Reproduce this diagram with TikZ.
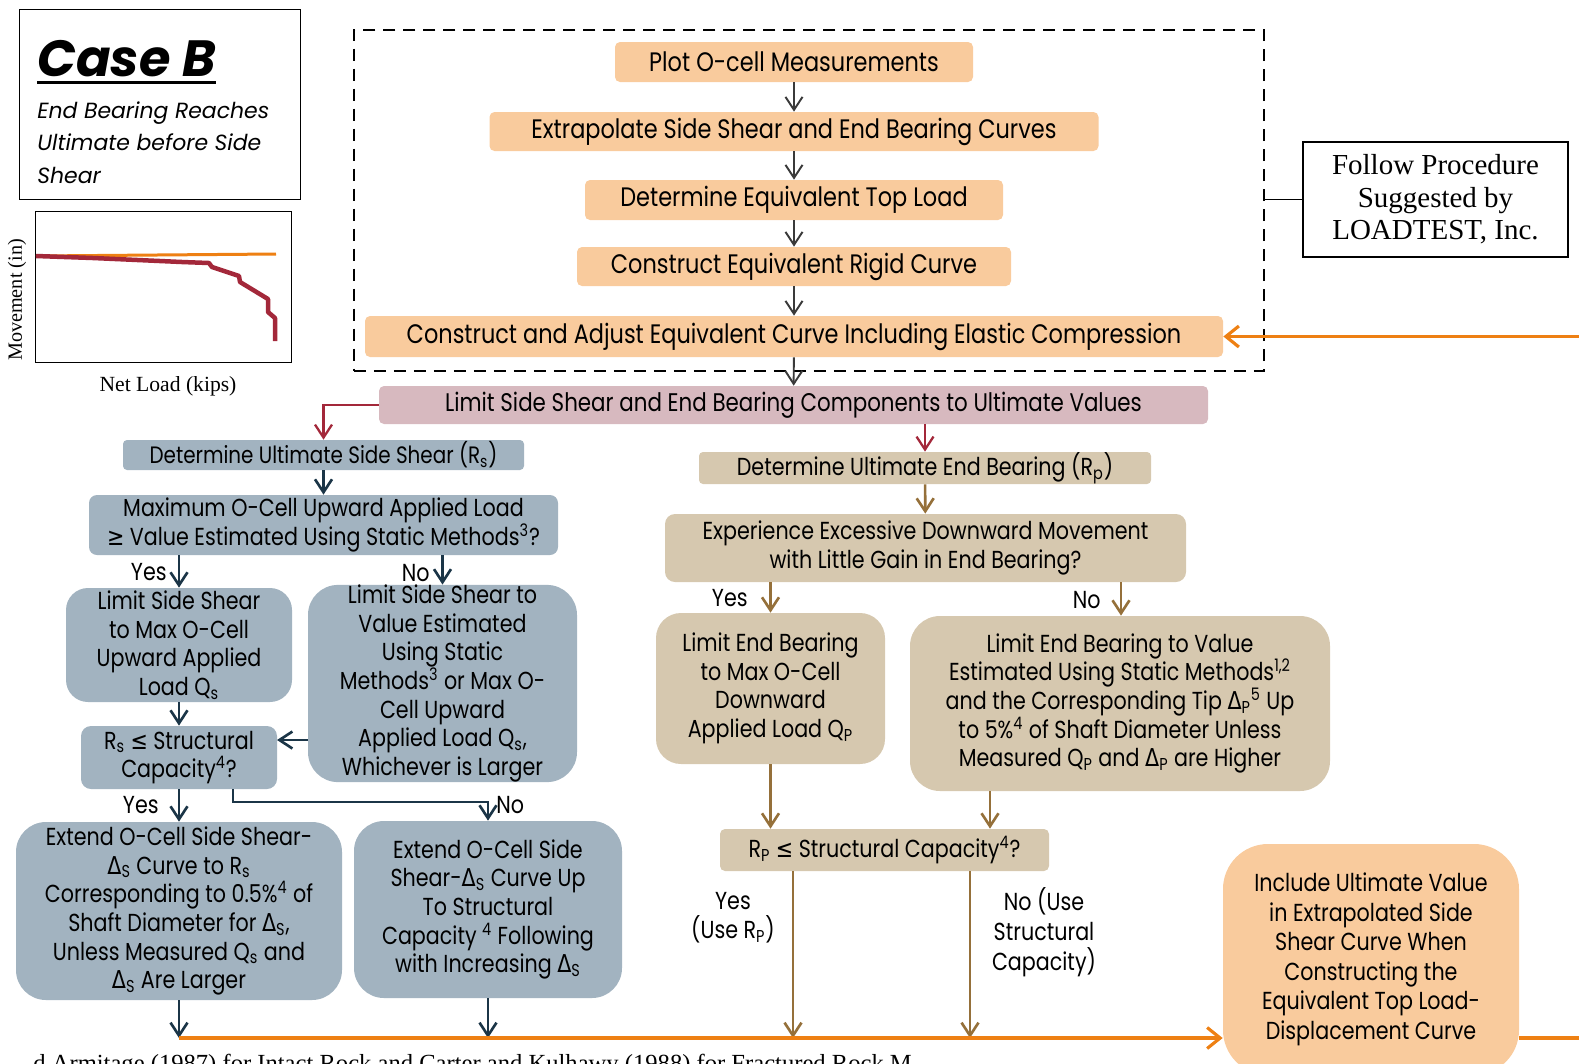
\documentclass[tikz,border=0pt]{standalone}
\usepackage{fontspec}
\setmainfont{Poppins}[FakeStretch=0.84]
\newfontfamily\casefont{Poppins}
\newfontfamily\symfont{DejaVu Sans}[FakeStretch=0.84]
\newfontfamily\notefont{Liberation Serif}
\usetikzlibrary{arrows.meta,calc}

\definecolor{boxorange}{HTML}{F9CB9D}
\definecolor{boxpink}{HTML}{D7B9BF}
\definecolor{boxblue}{HTML}{A2B3C0}
\definecolor{boxtan}{HTML}{D6C8AF}
\definecolor{arrgray}{HTML}{3A3A3A}
\definecolor{arrred}{HTML}{A3283A}
\definecolor{arrnavy}{HTML}{1B3547}
\definecolor{arrbrown}{HTML}{95703A}
\definecolor{busorange}{HTML}{EE8013}

\newcommand{\Dl}{{\symfont Δ}}
\newcommand{\leqs}{{\symfont ≤}}
\newcommand{\geqs}{{\symfont ≥}}

\begin{document}
\begin{tikzpicture}[x=0.02cm,y=-0.02cm,
  every node/.style={font=\fontsize{14}{16.3}\selectfont,align=center,inner sep=0pt},
  topfont/.style={font=\fontsize{15.2}{18}\selectfont},
  sz/.style 2 args={minimum width=#1*0.02cm,minimum height=#2*0.02cm},
  obox/.style={fill=boxorange,rounded corners=0.1cm},
  pbox/.style={fill=boxpink,rounded corners=0.1cm},
  bbox/.style={fill=boxblue,rounded corners=0.08cm},
  tbox/.style={fill=boxtan,rounded corners=0.08cm},
  barb/.style={-{Straight Barb[length=0.26cm,width=0.34cm]}},
  garrow/.style={barb,draw=arrgray,line width=1.1pt},
  rarrow/.style={barb,draw=arrred,line width=1.3pt},
  narrow/.style={barb,draw=arrnavy,line width=1.5pt},
  brarrow/.style={barb,draw=arrbrown,line width=1.5pt},
  busline/.style={draw=busorange,line width=1.8pt},
  serif/.style 2 args={font=\notefont\fontsize{#1}{#2}\selectfont}]
\useasboundingbox (0,0) rectangle (1579,1063);

% case heading and sketch of the curves
\node[draw,line width=0.7pt,sz={281}{190},anchor=north west] (casebox) at (19,9) {};
\node[anchor=base west,font=\casefont\bfseries\itshape\fontsize{29}{29}\selectfont] (casetitle) at (37,76) {Case B};
\draw[line width=0.06cm] ($(casetitle.base west)+(0,6)$) -- ($(casetitle.base east)+(0,6)$);
\node[anchor=north west,align=left,font=\casefont\itshape\fontsize{12.5}{18.5}\selectfont] (casesub) at (37,101) {End Bearing Reaches\\Ultimate before Side\\Shear};

\node[draw,line width=0.7pt,sz={256}{151},anchor=north west] (chart) at (35,211) {};
\draw[busorange,line width=0.06cm] (36,256) -- (276,254);
\draw[arrred,line width=0.09cm,line join=round] (36,256) -- (93,258) -- (182,262) -- (209,263) -- (212,267) -- (239,276) -- (240,282) -- (268,299) -- (268,312) -- (275,318) -- (275,341);
\node[serif={11.5}{12},rotate=90] (ylab) at (17,300) {Movement (in)};
\node[serif={12.3}{12}] (xlab) at (168,386) {Net Load (kips)};

% procedure column
\node[draw,line width=1.1pt,dash pattern=on 0.24cm off 0.16cm,sz={910}{341},anchor=north west] (loadtest) at (353,29) {};
\node[draw,line width=0.7pt,serif={16.5}{18.5},sz={265}{115}] (follow) at (1435.5,199.5) {Follow Procedure\\Suggested by\\LOADTEST, Inc.};
\draw[line width=0.7pt] (loadtest.east |- follow.west) -- (follow.west);

\node[obox,topfont,sz={358}{40}] (plot) at (794,62) {Plot O-cell Measurements};
\node[obox,topfont,sz={609}{39}] (extrap) at (794,131.5) {Extrapolate Side Shear and End Bearing Curves};
\node[obox,topfont,sz={418}{40}] (topload) at (794,200) {Determine Equivalent Top Load};
\node[obox,topfont,sz={434}{39}] (rigid) at (794,266.5) {Construct Equivalent Rigid Curve};
\node[obox,topfont,sz={858}{41}] (adjust) at (794,336.5) {Construct and Adjust Equivalent Curve Including Elastic Compression};
\node[pbox,font=\fontsize{14.5}{16}\selectfont,sz={829}{38}] (limit) at (793.5,405) {Limit Side Shear and End Bearing Components to Ultimate Values};

\draw[garrow] (plot) -- (extrap);
\draw[garrow] (extrap) -- (topload);
\draw[garrow] (topload) -- (rigid);
\draw[garrow] (rigid) -- (adjust);
\draw[garrow] (adjust) -- (limit);

% side shear branch
\node[bbox,font=\fontsize{13.5}{16}\selectfont,sz={401}{30}] (shear) at (323.5,455) {Determine Ultimate Side Shear (R\textsubscript{s})};
\node[bbox,rounded corners=0.16cm,sz={469}{60}] (maxq) at (323.5,525) {Maximum O-Cell Upward Applied Load\\\geqs{} Value Estimated Using Static Methods\textsuperscript{3}?};
\node[bbox,rounded corners=0.44cm,sz={226}{114}] (limq) at (179,645) {Limit Side Shear\\to Max O-Cell\\Upward Applied\\Load Q\textsubscript{s}};
\node[bbox,rounded corners=0.6cm,sz={269}{193}] (limstat) at (442.5,683.5) {Limit Side Shear to\\Value Estimated\\Using Static\\Methods\textsuperscript{3} or Max O-\\Cell Upward\\Applied Load Q\textsubscript{s},\\Whichever is Larger};
\node[bbox,rounded corners=0.2cm,sz={196}{63}] (rscap) at (179,757.5) {R\textsubscript{s} \leqs{} Structural\\Capacity\textsuperscript{4}?};
\node[bbox,rounded corners=0.6cm,sz={326}{178}] (ext1) at (179,911) {Extend O-Cell Side Shear-\\\Dl\textsubscript{S} Curve to R\textsubscript{s}\\Corresponding to 0.5\%\textsuperscript{4} of\\Shaft Diameter for \Dl\textsubscript{S},\\Unless Measured Q\textsubscript{s} and\\\Dl\textsubscript{S} Are Larger};
\node[bbox,rounded corners=0.6cm,sz={268}{177}] (ext2) at (488,909.5) {Extend O-Cell Side\\Shear-\Dl\textsubscript{S} Curve Up\\To Structural\\Capacity \textsuperscript{4} Following\\with Increasing \Dl\textsubscript{S}};

\draw[rarrow] (limit.west) -| (shear.north);
\draw[narrow] (shear) -- (maxq);
\draw[narrow] (maxq.south -| limq.north) -- (limq.north);
\draw[narrow] (maxq.south -| limstat.north) -- (limstat.north);
\node[anchor=east] (yes1) at (167,572) {Yes};
\node[anchor=east] (no1) at (430,573) {No};
\draw[narrow] (limq) -- (rscap);
\coordinate (rsin) at (277,740);
\draw[narrow] (limstat.west |- rsin) -- (rsin);
\draw[narrow] (rscap) -- (ext1);
\coordinate (nobend) at (233,802);
\draw[narrow] (rscap.south -| nobend) -- (nobend) -| (ext2.north);
\node[anchor=east] (yes2) at (159,805) {Yes};
\node[anchor=west] (no2) at (496,805) {No};

% end bearing branch
\node[tbox,sz={452}{32}] (endb) at (925,468) {Determine Ultimate End Bearing (R\textsubscript{p})};
\node[tbox,rounded corners=0.2cm,sz={521}{68}] (exper) at (925.5,548) {Experience Excessive Downward Movement\\with Little Gain in End Bearing?};
\node[tbox,rounded corners=0.5cm,sz={229}{151}] (limqp) at (770.5,688.5) {Limit End Bearing\\to Max O-Cell\\Downward\\Applied Load Q\textsubscript{P}};
\node[tbox,rounded corners=0.6cm,sz={420}{175}] (limstatp) at (1120,703.5) {Limit End Bearing to Value\\Estimated Using Static Methods\textsuperscript{1,2}\\and the Corresponding Tip \Dl\textsubscript{P}\textsuperscript{5} Up\\to 5\%\textsuperscript{4} of Shaft Diameter Unless\\Measured Q\textsubscript{P} and \Dl\textsubscript{P} are Higher};
\node[tbox,rounded corners=0.1cm,sz={329}{42}] (rpcap) at (884.5,850) {R\textsubscript{P} \leqs{} Structural Capacity\textsuperscript{4}?};

\draw[rarrow] (limit.south -| endb.north) -- (endb.north);
\draw[brarrow] (endb) -- (exper);
\draw[brarrow] (exper.south -| limqp.north) -- (limqp.north);
\coordinate (nocol) at (1121,0);
\draw[brarrow] (exper.south -| nocol) -- (limstatp.north -| nocol);
\node[anchor=east] (yes3) at (748,598) {Yes};
\node[anchor=east] (no3) at (1101,600) {No};
\coordinate (incap) at (990,0);
\draw[brarrow] (limqp.south) -- (rpcap.north -| limqp.south);
\draw[brarrow] (limstatp.south -| incap) -- (rpcap.north -| incap);
\node (yes4) at (733,918) {Yes\\(Use R\textsubscript{P})};
\node[font=\fontsize{14}{17}\selectfont] (no4) at (1044,932) {No (Use\\Structural\\Capacity)};

% collecting line
\node[obox,rounded corners=0.9cm,sz={296}{231},font=\fontsize{14}{16.8}\selectfont] (incl) at (1371,959.5) {Include Ultimate Value\\in Extrapolated Side\\Shear Curve When\\Constructing the\\Equivalent Top Load-\\Displacement Curve};
\coordinate (bus) at (179,1038);
\coordinate (ret) at (1620,336.5);
\draw[narrow] (ext1.south) -- (ext1.south |- bus);
\draw[narrow] (ext2.south) -- (ext2.south |- bus);
\coordinate (yescol) at (793,0);
\coordinate (nocap) at (970,0);
\draw[brarrow] (rpcap.south -| yescol) -- (bus -| yescol);
\draw[brarrow] (rpcap.south -| nocap) -- (bus -| nocap);
\draw[busline,-{Straight Barb[length=0.26cm,width=0.42cm]}] (bus) -- (incl.west |- bus);
\draw[busline,-{Straight Barb[length=0.26cm,width=0.42cm]}] (incl.east |- bus) -| (ret) -- (adjust.east);

\node[serif={14}{14},anchor=base west] (refnote) at (33,1071) {d Armitage (1987) for Intact Rock and Carter and Kulhawy (1988) for Fractured Rock M};
\end{tikzpicture}
\end{document}
